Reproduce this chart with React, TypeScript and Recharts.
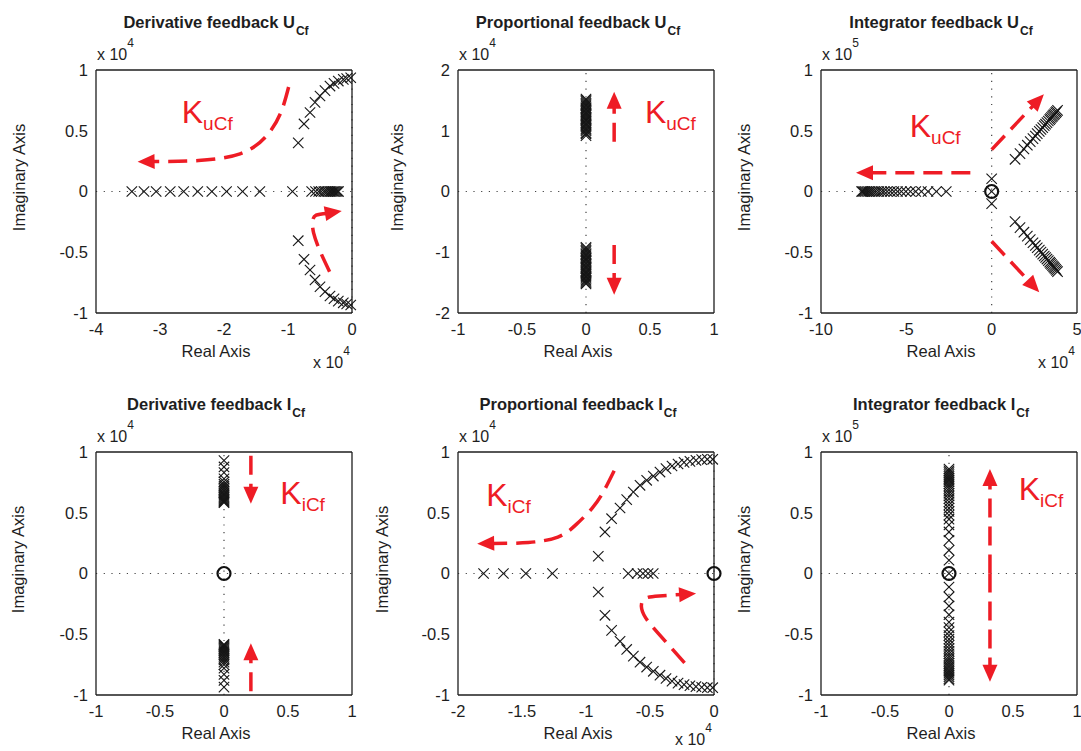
import React from 'react';
import { ScatterChart, Scatter, XAxis, YAxis, ReferenceLine, Curve } from 'recharts';

const FONT = '"Liberation Sans", Arial, Helvetica, sans-serif';
const RED = '#ee1c25';
const INK = '#1e1e1e';

type Pt = [number, number];

// tick labels
const ticksUnit = [-1, -0.5, 0, 0.5, 1];
const ticksDuX = [-4, -3, -2, -1, 0];
const ticksPuY = [-2, -1, 0, 1, 2];
const ticksIuX = [-10, -5, 0, 5];
const ticksPiX = [-2, -1.5, -1, -0.5, 0];

// Derivative feedback U_Cf  (x10^4)
const duReal = [-3.44, -3.25, -3.06, -2.84, -2.63, -2.41, -2.19, -1.96, -1.71, -1.44, -0.93, -0.63, -0.57, -0.52, -0.48, -0.44, -0.41, -0.38, -0.35, -0.33, -0.31, -0.29, -0.27, -0.25, -0.23, -0.21];
const duUpper: Pt[] = [[-0.84, 0.4], [-0.75, 0.556], [-0.656, 0.65], [-0.578, 0.734], [-0.5, 0.786], [-0.422, 0.83], [-0.344, 0.868], [-0.281, 0.89], [-0.214, 0.909], [-0.136, 0.923], [-0.083, 0.93], [-0.02, 0.936]];
const duLower: Pt[] = [[-0.84, -0.405], [-0.75, -0.558], [-0.656, -0.646], [-0.578, -0.728], [-0.5, -0.784], [-0.422, -0.825], [-0.344, -0.86], [-0.281, -0.883], [-0.214, -0.902], [-0.136, -0.916], [-0.083, -0.926], [-0.02, -0.934]];
const duArrowUpper: Pt[] = [[-0.99, 0.86], [-1.12, 0.64], [-1.35, 0.45], [-1.75, 0.31], [-2.4, 0.255], [-3.35, 0.245]];
const duArrowLower: Pt[] = [[-0.35, -0.66], [-0.5, -0.49], [-0.6, -0.34], [-0.615, -0.245], [-0.56, -0.195], [-0.16, -0.16]];
const duK: Pt = [-2.66, 0.56];

// Proportional feedback U_Cf  (x10^4)
const puUpper = [0.92, 0.95, 0.97, 1.0, 1.02, 1.04, 1.07, 1.09, 1.11, 1.13, 1.16, 1.18, 1.2, 1.22, 1.25, 1.27, 1.29, 1.31, 1.34, 1.36, 1.38, 1.41, 1.43, 1.45, 1.48, 1.5, 1.52];
const puLower = [-0.92, -0.94, -0.97, -0.99, -1.02, -1.04, -1.06, -1.09, -1.11, -1.13, -1.15, -1.18, -1.2, -1.23, -1.25, -1.27, -1.3, -1.32, -1.34, -1.36, -1.39, -1.41, -1.43, -1.46, -1.48, -1.5, -1.52];
const puArrowUp: Pt[] = [[0.22, 0.82], [0.22, 1.64]];
const puArrowDown: Pt[] = [[0.22, -0.88], [0.22, -1.7]];
const puK: Pt = [0.46, 1.12];

// Integrator feedback U_Cf  (x10^4 real, x10^5 imag)
const iuReal = [-2.66, -3.24, -3.73, -4.12, -4.45, -4.76, -5.03, -5.29, -5.52, -5.73, -5.93, -6.12, -6.3, -6.45, -6.61, -6.75, -6.88, -7.0, -7.12, -7.21, -7.31, -7.41, -7.49, -7.56, -7.62];
const iuOrigin = [0.105, 0, -0.1];
const iuUpper: Pt[] = [[1.37, 0.265], [1.66, 0.312], [1.89, 0.35], [2.09, 0.381], [2.26, 0.41], [2.42, 0.435], [2.56, 0.457], [2.67, 0.476], [2.79, 0.495], [2.89, 0.51], [2.99, 0.526], [3.08, 0.542], [3.16, 0.554], [3.24, 0.567], [3.32, 0.58], [3.4, 0.592], [3.45, 0.601], [3.51, 0.611], [3.57, 0.62], [3.63, 0.63], [3.69, 0.639], [3.75, 0.649], [3.8, 0.658], [3.86, 0.668]];
const iuLower: Pt[] = [[1.37, -0.248], [1.66, -0.297], [1.89, -0.335], [2.09, -0.367], [2.26, -0.396], [2.42, -0.422], [2.56, -0.444], [2.67, -0.463], [2.79, -0.483], [2.89, -0.499], [2.99, -0.515], [3.08, -0.531], [3.16, -0.543], [3.24, -0.556], [3.32, -0.569], [3.4, -0.582], [3.45, -0.592], [3.51, -0.601], [3.57, -0.611], [3.63, -0.621], [3.69, -0.63], [3.75, -0.64], [3.8, -0.65], [3.86, -0.659]];
const iuArrowLeft: Pt[] = [[-1.25, 0.155], [-7.95, 0.155]];
const iuArrowUp: Pt[] = [[0, 0.345], [3.06, 0.8]];
const iuArrowDown: Pt[] = [[0, -0.41], [2.79, -0.83]];
const iuK: Pt = [-4.8, 0.45];

// Derivative feedback I_Cf  (x10^4)
const diUpper = [0.93, 0.877, 0.83, 0.78, 0.755, 0.735, 0.72, 0.705, 0.69, 0.678, 0.666, 0.655, 0.645, 0.635, 0.625, 0.615, 0.606, 0.598, 0.59, 0.583];
const diLower = [-0.583, -0.59, -0.598, -0.607, -0.616, -0.626, -0.636, -0.647, -0.658, -0.67, -0.683, -0.697, -0.712, -0.73, -0.75, -0.78, -0.83, -0.88, -0.935];
const diArrowDown: Pt[] = [[0.21, 0.97], [0.21, 0.575]];
const diArrowUp: Pt[] = [[0.21, -0.97], [0.21, -0.575]];
const diK: Pt = [0.44, 0.575];

// Proportional feedback I_Cf  (x10^4)
const piReal = [-1.8, -1.645, -1.47, -1.262, -0.67, -0.6, -0.555, -0.515, -0.475];
const piUpper: Pt[] = [[-0.904, 0.142], [-0.852, 0.342], [-0.8, 0.451], [-0.734, 0.539], [-0.682, 0.608], [-0.63, 0.671], [-0.578, 0.726], [-0.526, 0.767], [-0.474, 0.802], [-0.422, 0.835], [-0.375, 0.863], [-0.328, 0.885], [-0.281, 0.901], [-0.234, 0.915], [-0.188, 0.923], [-0.141, 0.931], [-0.096, 0.937], [-0.052, 0.94], [-0.01, 0.94]];
const piLower: Pt[] = [[-0.904, -0.152], [-0.852, -0.344], [-0.8, -0.468], [-0.734, -0.558], [-0.682, -0.625], [-0.63, -0.68], [-0.578, -0.73], [-0.526, -0.77], [-0.474, -0.805], [-0.422, -0.837], [-0.375, -0.864], [-0.328, -0.886], [-0.281, -0.902], [-0.234, -0.915], [-0.188, -0.924], [-0.141, -0.931], [-0.096, -0.936], [-0.052, -0.94], [-0.01, -0.94]];
const piArrowUpper: Pt[] = [[-0.78, 0.845], [-0.86, 0.68], [-0.95, 0.54], [-1.08, 0.4], [-1.22, 0.3], [-1.45, 0.255], [-1.85, 0.245]];
const piArrowLower: Pt[] = [[-0.23, -0.735], [-0.37, -0.57], [-0.51, -0.4], [-0.565, -0.29], [-0.545, -0.21], [-0.43, -0.185], [-0.14, -0.165]];
const piK: Pt = [-1.78, 0.553];

// Integrator feedback I_Cf  (x10^5)
const iiUpper = [0.86, 0.845, 0.83, 0.815, 0.8, 0.785, 0.77, 0.755, 0.738, 0.72, 0.7, 0.68, 0.66, 0.638, 0.615, 0.59, 0.565, 0.538, 0.51, 0.48, 0.447, 0.4, 0.342, 0.273, 0.191, 0.109];
const iiLower = [-0.111, -0.193, -0.267, -0.339, -0.4, -0.445, -0.48, -0.51, -0.54, -0.567, -0.592, -0.617, -0.64, -0.662, -0.683, -0.703, -0.722, -0.74, -0.757, -0.773, -0.79, -0.805, -0.82, -0.835, -0.85, -0.865, -0.878];
const iiArrowUp: Pt[] = [[0.32, 0.0], [0.32, 0.86]];
const iiArrowDown: Pt[] = [[0.32, 0.0], [0.32, -0.89]];
const iiK: Pt = [0.545, 0.603];

// ---- layout ----
const PW = 256;
const PH = 243;
const YW = 95;
const MT = 70;
const MR = 12;
const XH = 60;

const xy = (pts: Pt[]) => pts.map(([x, y]) => ({ x, y }));
const onAxis = (re: number[]) => re.map((x) => ({ x, y: 0 }));
const onImag = (im: number[]) => im.map((y) => ({ x: 0, y }));

interface Panel {
  left: number;
  top: number;
  title: string;
  xDomain: [number, number];
  yDomain: [number, number];
  xTicks: number[];
  yTicks: number[];
  yExp: string;
  xExp?: string;
  yLabelGap: number;
  crosses: { x: number; y: number }[];
  circles: { x: number; y: number }[];
  arrows: Pt[][];
  k: Pt;
  kSub: string;
}

const panels: Panel[] = [
  {
    left: 96, top: 70, title: 'Derivative feedback U', xDomain: [-4, 0], yDomain: [-1, 1],
    xTicks: ticksDuX, yTicks: ticksUnit, yExp: '4', xExp: '4', yLabelGap: 77,
    crosses: [...onAxis(duReal), ...xy(duUpper), ...xy(duLower)], circles: [],
    arrows: [duArrowUpper, duArrowLower], k: duK, kSub: 'uCf',
  },
  {
    left: 458, top: 70, title: 'Proportional feedback U', xDomain: [-1, 1], yDomain: [-2, 2],
    xTicks: ticksUnit, yTicks: ticksPuY, yExp: '4', yLabelGap: 61,
    crosses: [...onImag(puUpper), ...onImag(puLower)], circles: [],
    arrows: [puArrowUp, puArrowDown], k: puK, kSub: 'uCf',
  },
  {
    left: 821, top: 70, title: 'Integrator feedback U', xDomain: [-10, 5], yDomain: [-1, 1],
    xTicks: ticksIuX, yTicks: ticksUnit, yExp: '5', xExp: '4', yLabelGap: 77,
    crosses: [...onAxis(iuReal), ...onImag(iuOrigin), ...xy(iuUpper), ...xy(iuLower)], circles: [{ x: 0, y: 0 }],
    arrows: [iuArrowLeft, iuArrowUp, iuArrowDown], k: iuK, kSub: 'uCf',
  },
  {
    left: 96, top: 452, title: 'Derivative feedback I', xDomain: [-1, 1], yDomain: [-1, 1],
    xTicks: ticksUnit, yTicks: ticksUnit, yExp: '4', yLabelGap: 78,
    crosses: [...onImag(diUpper), ...onImag(diLower)], circles: [{ x: 0, y: 0 }],
    arrows: [diArrowDown, diArrowUp], k: diK, kSub: 'iCf',
  },
  {
    left: 458, top: 452, title: 'Proportional feedback I', xDomain: [-2, 0], yDomain: [-1, 1],
    xTicks: ticksPiX, yTicks: ticksUnit, yExp: '4', xExp: '4', yLabelGap: 76,
    crosses: [...onAxis(piReal), ...xy(piUpper), ...xy(piLower)], circles: [{ x: 0, y: 0 }],
    arrows: [piArrowUpper, piArrowLower], k: piK, kSub: 'iCf',
  },
  {
    left: 821, top: 452, title: 'Integrator feedback I', xDomain: [-1, 1], yDomain: [-1, 1],
    xTicks: ticksUnit, yTicks: ticksUnit, yExp: '5', yLabelGap: 77,
    crosses: [...onImag(iiUpper), { x: 0, y: 0 }, ...onImag(iiLower)], circles: [{ x: 0, y: 0 }],
    arrows: [iiArrowUp, iiArrowDown], k: iiK, kSub: 'iCf',
  },
];

const Cross = (props: any) => {
  const { cx, cy } = props;
  const s = 5.2;
  return (
    <g stroke="#161616" strokeWidth={1.1}>
      <line x1={cx - s} y1={cy - s} x2={cx + s} y2={cy + s} />
      <line x1={cx - s} y1={cy + s} x2={cx + s} y2={cy - s} />
    </g>
  );
};

const Ring = (props: any) => (
  <circle cx={props.cx} cy={props.cy} r={6.5} fill="none" stroke="#111" strokeWidth={2.2} />
);

const Hidden = () => <g />;

function ArrowPath(props: any) {
  const pts: { x: number; y: number }[] = props.points || [];
  if (pts.length < 2) return <g />;
  const tip = pts[pts.length - 1];
  const prev = pts[pts.length - 2];
  const a = Math.atan2(tip.y - prev.y, tip.x - prev.x);
  const len = 17;
  const half = 7.5;
  const bx = tip.x - len * Math.cos(a);
  const by = tip.y - len * Math.sin(a);
  const nx = -Math.sin(a) * half;
  const ny = Math.cos(a) * half;
  const body = [...pts.slice(0, -1), { x: bx + 2 * Math.cos(a), y: by + 2 * Math.sin(a) }];
  return (
    <g>
      <Curve type="natural" points={body} stroke={RED} strokeWidth={3.5} strokeDasharray="19 9" fill="none" />
      <polygon points={`${tip.x},${tip.y} ${bx + nx},${by + ny} ${bx - nx},${by - ny}`} fill={RED} />
    </g>
  );
}

const makeKLabel = (sub: string) => (props: any) => (
  <text x={props.cx} y={props.cy} fill={RED} fontFamily={FONT} fontSize={32}>
    K<tspan fontSize={19} dy={7}>{sub}</tspan>
  </text>
);

const tickStyle = { fontSize: 16.5, fill: INK, fontFamily: FONT };
const frame = { stroke: INK, strokeWidth: 1.3 };

function Locus({ p }: { p: Panel }) {
  const W = YW + PW + MR;
  const H = MT + PH + XH;
  return (
    <div style={{ position: 'absolute', left: p.left - YW, top: p.top - MT }}>
      <ScatterChart width={W} height={H} margin={{ top: MT, right: MR, bottom: 0, left: 0 }}>
        <XAxis type="number" dataKey="x" domain={p.xDomain} ticks={p.xTicks} interval={0} height={XH}
          tickLine={false} axisLine={frame} tick={tickStyle} tickSize={4} tickMargin={6} />
        <YAxis type="number" dataKey="y" domain={p.yDomain} ticks={p.yTicks} interval={0} width={YW}
          tickLine={false} axisLine={frame} tick={tickStyle} tickSize={4} tickMargin={4} />
        <XAxis xAxisId="top" orientation="top" mirror type="number" domain={p.xDomain} ticks={p.xTicks}
          interval={0} height={1} tick={false} tickSize={4} tickLine={{ stroke: INK }} axisLine={frame} />
        <XAxis xAxisId="bin" orientation="bottom" mirror type="number" domain={p.xDomain} ticks={p.xTicks}
          interval={0} height={1} tick={false} tickSize={4} tickLine={{ stroke: INK }} axisLine={false} />
        <YAxis yAxisId="right" orientation="right" mirror type="number" domain={p.yDomain} ticks={p.yTicks}
          interval={0} width={1} tick={false} tickSize={4} tickLine={{ stroke: INK }} axisLine={frame} />
        <YAxis yAxisId="lin" orientation="left" mirror type="number" domain={p.yDomain} ticks={p.yTicks}
          interval={0} width={1} tick={false} tickSize={4} tickLine={{ stroke: INK }} axisLine={false} />
        <ReferenceLine x={0} stroke="#444" strokeWidth={1.2} strokeDasharray="1.2 6.5" />
        <ReferenceLine y={0} stroke="#444" strokeWidth={1.2} strokeDasharray="1.2 6.5" />
        <Scatter data={p.crosses} shape={Cross} isAnimationActive={false} />
        <Scatter data={p.circles} shape={Ring} isAnimationActive={false} />
        {p.arrows.map((a, i) => (
          <Scatter key={`arrow-${i}`} data={xy(a)} shape={Hidden} line={ArrowPath} lineType="joint" isAnimationActive={false} />
        ))}
        <Scatter data={xy([p.k])} shape={makeKLabel(p.kSub)} isAnimationActive={false} />
      </ScatterChart>
    </div>
  );
}

function Labels({ p }: { p: Panel }) {
  const cx = p.left + 120;
  const xExpY = Math.min(p.top + PH + 55, 745);
  return (
    <g fontFamily={FONT} fill={INK}>
      <text x={cx} y={p.top - 42} textAnchor="middle" fontWeight="bold" fontSize={16.5}>
        {p.title}
        <tspan fontSize={12} dx={1} dy={7}>Cf</tspan>
      </text>
      <text x={p.left + 1} y={p.top - 10} fontSize={16}>
        x 10<tspan fontSize={12} dy={-13}>{p.yExp}</tspan>
      </text>
      {p.xExp && (
        <text x={p.left + 217} y={xExpY} fontSize={16}>
          x 10<tspan fontSize={12} dy={-13}>{p.xExp}</tspan>
        </text>
      )}
      <text x={cx} y={p.top + PH + 44} textAnchor="middle" fontSize={16.5}>Real Axis</text>
      <text
        x={p.left - p.yLabelGap}
        y={p.top + 107.5}
        textAnchor="middle"
        dominantBaseline="central"
        fontSize={16.5}
        transform={`rotate(-90 ${p.left - p.yLabelGap} ${p.top + 107.5})`}
      >
        Imaginary Axis
      </text>
    </g>
  );
}

export default function App() {
  return (
    <div style={{ position: 'absolute', left: 0, top: 0, width: 1081, height: 751, overflow: 'hidden', background: '#fff' }}>
      {panels.map((p, i) => (
        <Locus key={i} p={p} />
      ))}
      <svg width={1081} height={751} style={{ position: 'absolute', left: 0, top: 0, pointerEvents: 'none' }}>
        {panels.map((p, i) => (
          <Labels key={i} p={p} />
        ))}
      </svg>
    </div>
  );
}
